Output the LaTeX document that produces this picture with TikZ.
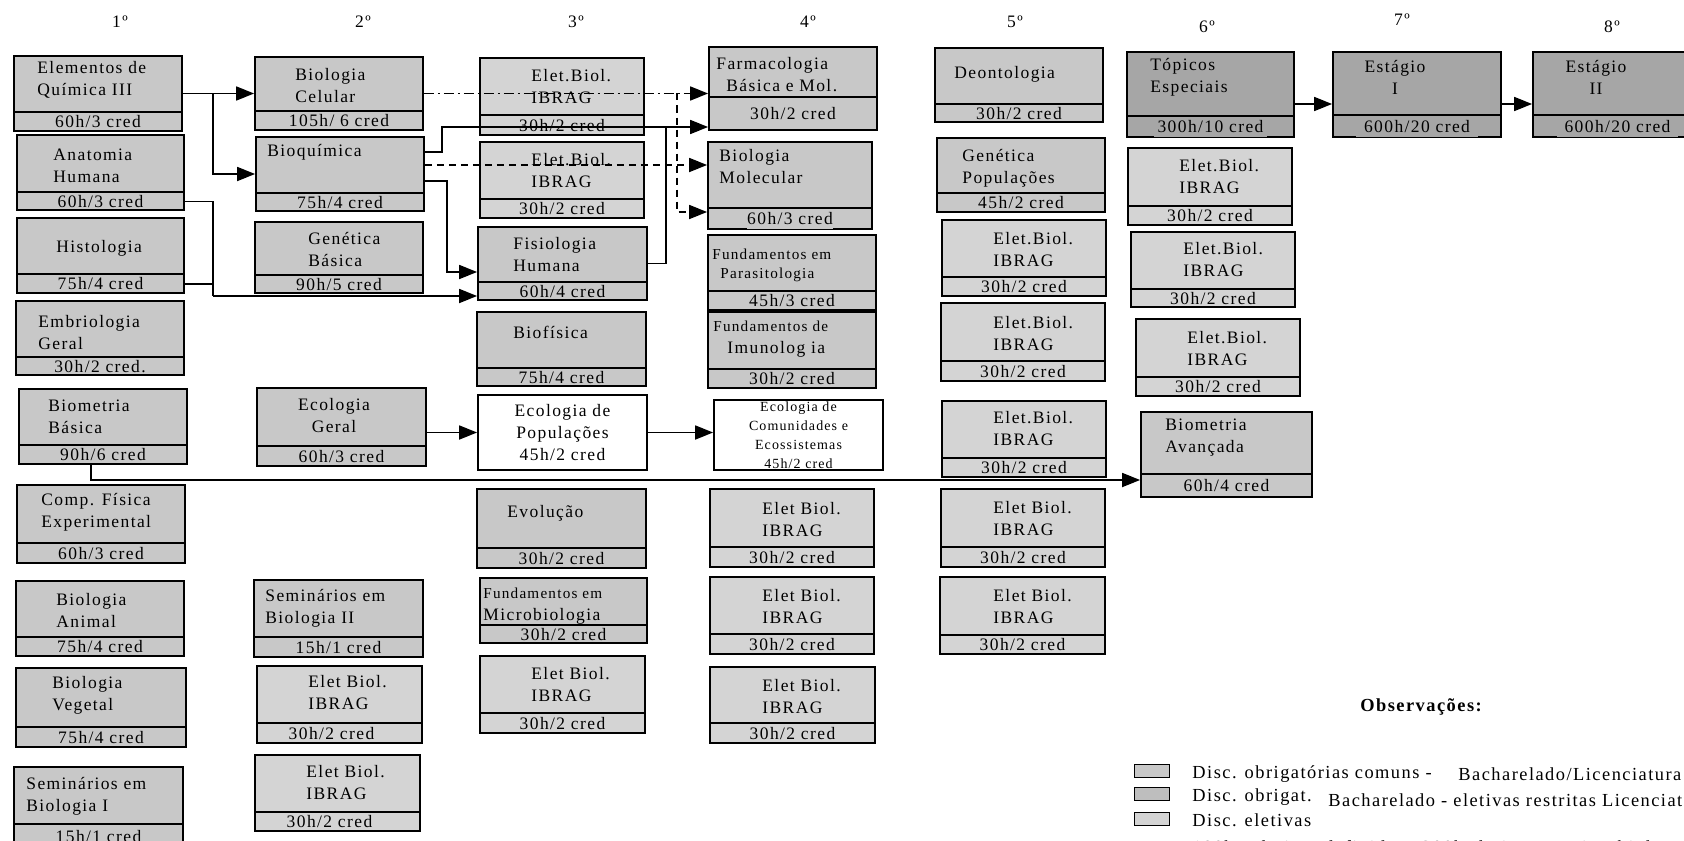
\documentclass[tikz,border=0pt]{standalone}
\usepackage{fontspec}
\setmainfont{Liberation Serif}[LetterSpace=8]
\usetikzlibrary{arrows.meta,calc,fit}

\definecolor{corobrig}{RGB}{200,200,200}
\definecolor{correstrita}{RGB}{190,190,190}
\definecolor{coreletiva}{RGB}{212,212,212}
\definecolor{corestagio}{RGB}{166,166,166}

\newcommand{\normaltam}{\fontsize{8.75pt}{11pt}\selectfont}
\newcommand{\legtam}{\fontsize{9.2pt}{11pt}\selectfont}
\newcommand{\pequena}{\fontsize{7.6pt}{9.5pt}\selectfont}
\newcommand{\minima}{\fontsize{7pt}{9.5pt}\selectfont}

\tikzset{
  texto/.style={font=\normaltam, inner sep=0pt},
  titulo/.style={texto, anchor=west, align=left},
  cred/.style={texto},
  caixa/.style={draw, line width=0.9pt, inner sep=0pt},
  obrig/.style={caixa, fill=corobrig},
  eletiva/.style={caixa, fill=coreletiva},
  estagio/.style={caixa, fill=corestagio},
  branca/.style={caixa, fill=white},
  divisor/.style={line width=0.8pt},
  seta/.style={line width=0.9pt, -{Triangle[length=9pt,width=7pt]}},
  liga/.style={line width=0.9pt},
  tracejada/.style={dash pattern=on 3.5pt off 2.5pt},
  tracoponto/.style={dash pattern=on 5pt off 2pt on 1pt off 2pt},
  legenda/.style={draw, line width=0.7pt, minimum width=17.5pt, minimum height=6.5pt, inner sep=0pt},
  legtexto/.style={texto, font=\legtam, anchor=west},
}

% disciplina: [opcoes cred]{nome}{estilo}{canto}{canto}{y divisor}{titulo}{carga}{opcoes titulo}
\newcommand{\disc}[9][]{%
  \node[#3, fit={(#4) (#5)}] (#2) {};
  \coordinate (#2-d) at (0,#6);
  \draw[divisor] (#2.west |- #2-d) -- (#2.east |- #2-d);
  \node[titulo, #9] (#2-t) {#7};
  \node[cred, #1] (#2-c) at ($(#2.south)!0.5!(#2.south |- #2-d)$) {#8};
}

\begin{document}
\begin{tikzpicture}[x=0.5pt, y=-0.5pt]
  \useasboundingbox (0,0) rectangle (1684,840);
  \clip (0,0) rectangle (1684,840);

  % periodos
  \node[texto] (p1) at (120,22) {1º};
  \node[texto] (p2) at (363,22) {2º};
  \node[texto] (p3) at (576,22) {3º};
  \node[texto] (p4) at (808,22) {4º};
  \node[texto] (p5) at (1015,22) {5º};
  \node[texto] (p6) at (1207,27) {6º};
  \node[texto] (p7) at (1402,20) {7º};
  \node[texto] (p8) at (1612,27) {8º};

  % 1o periodo
  \disc{quim}{obrig}{14,56}{182,131}{112}{Elementos de\\Química III}{60h/3 cred}{at={(37,80)}}
  \disc{anat}{obrig}{17,135}{184,210}{192}{Anatomia\\Humana}{60h/3 cred}{at={(53,166)}}
  \disc{hist}{obrig}{17,218}{184,293}{274}{Histologia}{75h/4 cred}{at={(56,248)}}
  \disc{embr}{obrig}{16,301}{184,375}{357}{Embriologia\\Geral}{30h/2 cred.}{at={(38,333)}}
  \disc{biom}{obrig}{19,389}{187,464}{445}{Biometria\\Básica}{90h/6 cred}{at={(48,417)}}
  \disc{fisexp}{obrig}{17,485}{185,563}{543}{Comp. Física\\Experimental}{60h/3 cred}{at={(41,512)}}
  \disc{bioani}{obrig}{16,581}{184,656}{637}{Biologia\\Animal}{75h/4 cred}{at={(56,611)}}
  \disc{bioveg}{obrig}{16,668}{186,747}{727}{Biologia\\Vegetal}{75h/4 cred}{at={(52,695)}}
  \disc{sem1}{obrig}{14,767}{183,848}{824}{Seminários em\\Biologia I}{15h/1 cred}{at={(26,796)}}

  % 2o periodo
  \disc{cel}{obrig}{255,57}{423,130}{111}{Biologia\\Celular}{105h/ 6 cred}{at={(295,86)}}
  \disc{bioq}{obrig}{256,137}{424,211}{193}{Bioquímica}{75h/4 cred}{at={(267,152)}}
  \disc{genbas}{obrig}{255,222}{423,293}{275}{Genética\\Básica}{90h/5 cred}{at={(308,249)}}
  \disc{ecoger}{obrig}{257,388}{426,466}{446}{Ecologia\\Geral}{60h/3 cred}{anchor=center, align=center, at={(334,416)}}
  \disc{sem2}{obrig}{254,580}{423,657}{637}{Seminários em\\Biologia II}{15h/1 cred}{at={(265,608)}}
  \disc[xshift=-4pt]{el21}{eletiva}{257,666}{422,743}{723}{Elet Biol.\\IBRAG}{30h/2 cred}{at={(308,693)}}
  \disc[xshift=-4pt]{el22}{eletiva}{255,755}{420,831}{812}{Elet Biol.\\IBRAG}{30h/2 cred}{at={(306,783)}}

  % 3o periodo
  \disc{el31}{eletiva}{480,58}{644,135}{115}{Elet.Biol.\\IBRAG}{30h/2 cred}{at={(531,87)}}
  \disc{el32}{eletiva}{480,142}{644,218}{199}{Elet.Biol.\\IBRAG}{30h/2 cred}{at={(531,171)}}
  \disc{fisio}{obrig}{478,227}{647,300}{282}{Fisiologia\\Humana}{60h/4 cred}{at={(513,255)}}
  \disc{biof}{obrig}{477,312}{646,386}{368}{Biofísica}{75h/4 cred}{at={(513,332)}}
  \node[branca, fit={(478,395) (647,470)}] (ecopop) {};
  \node[texto, align=center] (ecopop-t) at (ecopop.center) {Ecologia de\\Populações\\45h/2 cred};
  \disc{evol}{obrig}{477,489}{646,568}{548}{Evolução}{30h/2 cred}{at={(507,513)}}
  \disc{micro}{obrig}{480,578}{647,643}{625}{{\pequena Fundamentos em}\\Microbiologia}{30h/2 cred}{at={(483,606)}}
  \disc{el33}{eletiva}{480,656}{645,733}{713}{Elet Biol.\\IBRAG}{30h/2 cred}{at={(531,685)}}

  % 4o periodo
  \disc{farm}{obrig}{709,47}{877,130}{97}{Farmacologia\\\hspace*{5pt}Básica e Mol.}{30h/2 cred}{at={(716,75)}}
  \disc[fill=corobrig, inner ysep=2pt]{biomol}{obrig}{708,142}{872,229}{208}{Biologia\\Molecular}{60h/3 cred}{at={(719,167)}}
  \disc{paras}{obrig}{708,235}{876,310}{291}{Fundamentos em\\\hspace*{4pt}Parasitologia}{45h/3 cred}{font=\pequena, at={(712,265)}}
  \disc{imuno}{obrig}{708,312}{876,388}{369}{{\pequena Fundamentos de}\\\hspace*{7pt}Imunolog ia}{30h/2 cred}{at={(713,339)}}
  \node[branca, fit={(714,400) (883,470)}] (ecocom) {};
  \node[texto, font=\minima, align=center] (ecocom-t) at (ecocom.center) {Ecologia de\\Comunidades e\\Ecossistemas\\45h/2 cred};
  \disc{el41}{eletiva}{710,489}{874,567}{547}{Elet Biol.\\IBRAG}{30h/2 cred}{at={(762,520)}}
  \disc{el42}{eletiva}{710,577}{874,654}{634}{Elet Biol.\\IBRAG}{30h/2 cred}{at={(762,607)}}
  \disc{el43}{eletiva}{710,667}{875,743}{723}{Elet Biol.\\IBRAG}{30h/2 cred}{at={(762,697)}}

  % 5o periodo
  \disc{deon}{obrig}{935,48}{1103,122}{104}{Deontologia}{30h/2 cred}{at={(954,74)}}
  \disc{genpop}{obrig}{937,138}{1105,212}{193}{Genética\\Populações}{45h/2 cred}{at={(962,168)}}
  \disc{el51}{eletiva}{942,220}{1106,296}{277}{Elet.Biol.\\IBRAG}{30h/2 cred}{at={(993,250)}}
  \disc{el52}{eletiva}{941,303}{1105,381}{361}{Elet.Biol.\\IBRAG}{30h/2 cred}{at={(993,334)}}
  \disc{el53}{eletiva}{942,401}{1106,477}{458}{Elet.Biol.\\IBRAG}{30h/2 cred}{at={(993,429)}}
  \disc{el54}{eletiva}{941,489}{1105,567}{547}{Elet Biol.\\IBRAG}{30h/2 cred}{at={(993,519)}}
  \disc{el55}{eletiva}{940,577}{1105,654}{635}{Elet Biol.\\IBRAG}{30h/2 cred}{at={(993,607)}}

  % 6o periodo
  \disc[fill=corestagio, inner xsep=2pt, inner ysep=2pt]{top}{estagio}{1127,52}{1294,137}{116}{Tópicos\\Especiais}{300h/10 cred}{at={(1150,77)}}
  \disc{el61}{eletiva}{1128,148}{1292,225}{206}{Elet.Biol.\\IBRAG}{30h/2 cred}{at={(1179,177)}}
  \disc{el62}{eletiva}{1131,232}{1295,307}{289}{Elet.Biol.\\IBRAG}{30h/2 cred}{at={(1183,260)}}
  \disc{el63}{eletiva}{1136,319}{1300,396}{377}{Elet.Biol.\\IBRAG}{30h/2 cred}{at={(1187,349)}}
  \disc{bioav}{obrig}{1141,412}{1312,497}{474}{Biometria\\Avançada}{60h/4 cred}{at={(1165,438)}}

  % 7o e 8o periodos
  \disc[fill=corestagio, inner xsep=4pt, inner ysep=2pt]{est1}{estagio}{1333,52}{1501,137}{115}{Estágio\\I}{600h/20 cred}{anchor=center, align=center, at={(1395,77)}}
  \disc[fill=corestagio, inner xsep=4pt, inner ysep=2pt]{est2}{estagio}{1533,52}{1702,137}{115}{Estágio\\II}{600h/20 cred}{anchor=center, align=center, at={(1596,77)}}

  % pontos de desvio
  \coordinate (j1) at (213,0);
  \coordinate (j2) at (213,296);
  \coordinate (j3) at (442,127);
  \coordinate (j4) at (0,165);
  \coordinate (j5) at (447,181);
  \coordinate (j6) at (447,272);
  \coordinate (j7) at (677,212);
  \coordinate (j8) at (666,127);
  \coordinate (j9) at (91,480);
  \coordinate (j10) at (0,104);

  % pre-requisitos
  \draw[seta] (quim.east) -- (cel.west);
  \draw[seta] (j1 |- quim.east) |- (bioq.west);
  \draw[liga] (anat.east |- anat-c) -| (j2);
  \draw[liga] (hist.east |- hist-c) -- (j1 |- hist-c);
  \draw[seta] (j2) -- (fisio.west |- j2);
  \draw[seta] (bioq.east |- bioq-t) -| (j3) -- (farm.west |- j3);
  \draw[seta, tracejada] (bioq.east |- j4) -- (biomol.west |- j4);
  \draw[seta] (bioq.east |- j5) -- (j5) -- (j6) -- (fisio.west |- j6);
  \draw[seta, tracoponto] (cel.east) -- (farm.west |- cel.east);
  \draw[seta, tracejada] (j7 |- cel.east) -- (j7) -- (biomol.west |- j7);
  \draw[liga] (fisio.east) -| (j8);
  \draw[seta] (ecoger.east |- ecopop.west) -- (ecopop.west);
  \draw[seta] (ecopop.east) -- (ecocom.west |- ecopop.east);
  \draw[seta] (j9 |- biom.south) -- (j9) -- (bioav.west |- j9);
  \draw[seta] (top.east |- j10) -- (est1.west |- j10);
  \draw[seta] (est1.east |- j10) -- (est2.west |- j10);

  % observacoes
  \node[texto, font=\legtam\bfseries] (obs) at (1421,707) {Observações:};
  \node[legenda, fill=corobrig] (leg1) at (1152,771) {};
  \node[legenda, fill=correstrita] (leg2) at (1152,794) {};
  \node[legenda, fill=coreletiva] (leg3) at (1152,819) {};
  \node[legtexto] (leg1-t) at (1192,774) {Disc. obrigatórias comuns -};
  \node[legtexto] (leg1-b) at (1458,774) {Bacharelado/Licenciatura};
  \node[legtexto] (leg2-t) at (1192,797) {Disc. obrigat.};
  \node[legtexto] (leg2-b) at (1328,800) {Bacharelado - eletivas restritas Licenciatura};
  \node[legtexto] (leg3-t) at (1192,820) {Disc. eletivas};
  \node[legtexto] (nota) at (1192,847) {180h - eletivas definidas - 300h eletivas restritas biol};
\end{tikzpicture}
\end{document}
